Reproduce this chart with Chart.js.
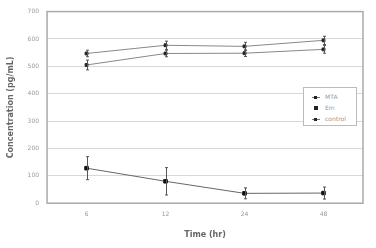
<!DOCTYPE html>
<html>
<head>
<meta charset="utf-8">
<script src="https://cdn.jsdelivr.net/npm/chart.js@4.4.1/dist/chart.umd.min.js"></script>
<style>
  html, body { margin: 0; padding: 0; background: #fff; }
  .wrap { position: relative; width: 376px; height: 248px; }
  .legend {
    position: absolute; left: 303px; top: 87px; width: 54px; height: 39px;
    border: 1px solid #bbb; background: #fff; font-family: "DejaVu Sans", sans-serif;
    font-size: 6px; color: #999; box-sizing: border-box; padding: 3px 0 0 8px;
  }
  .legend div { height: 11px; line-height: 11px; white-space: nowrap; }
  .legend span.m { display: inline-block; width: 8px; height: 1px; background: #777; vertical-align: middle; position: relative; margin-right: 5px; }
  .legend span.m i { position: absolute; left: 2px; top: -1px; width: 3px; height: 3px; background: #222; }
</style>
</head>
<body>
<div class="wrap">
  <canvas id="concChart" width="376" height="248"></canvas>
  <div class="legend">
    <div><span class="m"><i></i></span>MTA</div>
    <div><span class="m" style="background:transparent"><i style="width:4px;height:4px;top:-2px"></i></span>Em</div>
    <div><span class="m"><i></i></span>control</div>
  </div>
</div>
<script>
var timeLabels = ['6', '12', '24', '48'];
var mtaValues = [547, 577, 573, 595];
var mtaErrors = [12, 15, 15, 15];
var emValues = [505, 547, 548, 562];
var emErrors = [18, 12, 12, 14];
var controlValues = [128, 80, 36, 37];
var controlErrors = [42, 50, 20, 22];

var errorBars = {
    id: 'errorBars',
    afterDatasetsDraw: function (chart) {
        var ctx = chart.ctx;
        var y = chart.scales.y;
        ctx.save();
        ctx.strokeStyle = '#555';
        ctx.lineWidth = 1;
        chart.data.datasets.forEach(function (ds, i) {
            var meta = chart.getDatasetMeta(i);
            meta.data.forEach(function (pt, j) {
                var v = ds.data[j], e = ds.errors[j];
                var x = Math.round(pt.x) + 0.5;
                var top = y.getPixelForValue(v + e), bot = y.getPixelForValue(v - e);
                ctx.beginPath();
                ctx.moveTo(x, top); ctx.lineTo(x, bot);
                ctx.moveTo(x - 1.5, top); ctx.lineTo(x + 1.5, top);
                ctx.moveTo(x - 1.5, bot); ctx.lineTo(x + 1.5, bot);
                ctx.stroke();
            });
        });
        ctx.restore();
    },
    afterDraw: function (chart) {
        var a = chart.chartArea, ctx = chart.ctx;
        ctx.save();
        ctx.strokeStyle = '#aaa';
        ctx.lineWidth = 1.5;
        ctx.strokeRect(a.left, a.top, a.right - a.left, a.bottom - a.top);
        ctx.restore();
    }
};

var ctx = document.getElementById('concChart').getContext('2d');
var concChart = new Chart(ctx, {
    type: 'line',
    data: {
        labels: timeLabels,
        datasets: [{
            label: 'MTA',
            data: mtaValues,
            errors: mtaErrors,
            borderColor: '#888',
            borderWidth: 1,
            pointStyle: 'rect',
            pointRadius: 2,
            pointBackgroundColor: '#222',
            pointBorderColor: '#222',
            tension: 0
        }, {
            label: 'Em',
            data: emValues,
            errors: emErrors,
            borderColor: '#888',
            borderWidth: 1,
            pointStyle: 'rect',
            pointRadius: 2,
            pointBackgroundColor: '#222',
            pointBorderColor: '#222',
            tension: 0
        }, {
            label: 'control',
            data: controlValues,
            errors: controlErrors,
            borderColor: '#666',
            borderWidth: 1,
            pointStyle: 'rect',
            pointRadius: 2.5,
            pointBackgroundColor: '#111',
            pointBorderColor: '#111',
            tension: 0
        }]
    },
    options: {
        responsive: false,
        animation: false,
        layout: { padding: { left: 2, top: 9, right: 13, bottom: 4 } },
        scales: {
            x: {
                offset: true,
                grid: { display: false, drawTicks: false },
                border: { display: false },
                ticks: { color: '#999', font: { family: 'DejaVu Sans', size: 6 }, padding: 8 },
                title: { display: true, text: 'Time (hr)', color: '#666', font: { family: 'DejaVu Sans', size: 8, weight: 'bold' }, padding: { top: 4 } }
            },
            y: {
                min: 0,
                max: 700,
                grid: { color: '#d8d8d8', drawTicks: false },
                border: { display: false },
                ticks: { stepSize: 100, color: '#999', font: { family: 'DejaVu Sans', size: 6 }, padding: 8 },
                title: { display: true, text: 'Concentration (pg/mL)', color: '#666', font: { family: 'DejaVu Sans', size: 8, weight: 'bold' }, padding: { bottom: 4 } }
            }
        },
        plugins: {
            legend: { display: false },
            tooltip: { enabled: false }
        }
    },
    plugins: [errorBars]
});
</script>
</body>
</html>
